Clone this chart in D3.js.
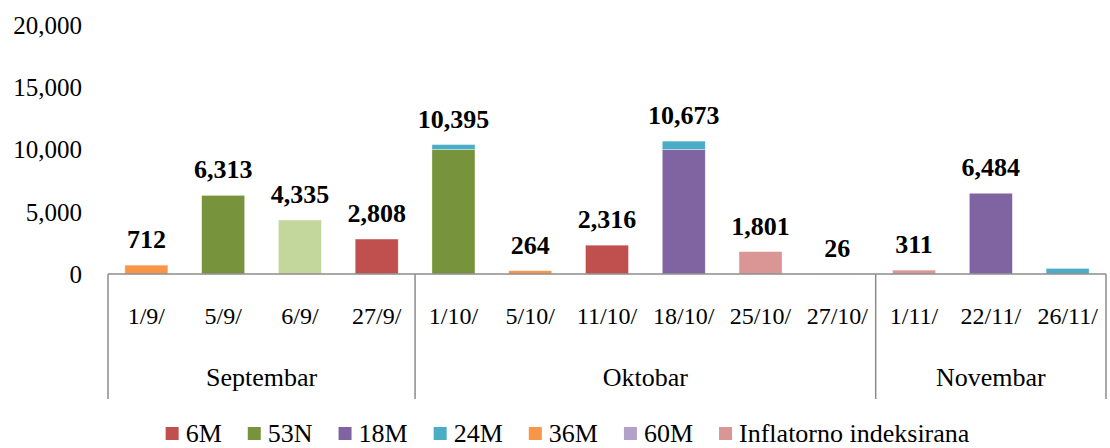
<!DOCTYPE html>
<html><head><meta charset="utf-8">
<script src="https://cdn.jsdelivr.net/npm/d3@7"></script>
<style>html,body{margin:0;padding:0;background:#fff;} svg{display:block;} svg text{font-family:"Liberation Serif","Times New Roman",Times,"DejaVu Serif",serif;}</style>
</head><body>
<svg id="c" width="1110" height="448"></svg>
<script>
const categories = ["1/9/","5/9/","6/9/","27/9/","1/10/","5/10/","11/10/","18/10/","25/10/","27/10/","1/11/","22/11/","26/11/"];
const months = ["Septembar","Oktobar","Novembar"];
const monthCounts = [4,6,3];
const s6M   = [0,0,0,2808,0,0,2316,0,0,0,0,0,0];
const s53N  = [0,6313,0,0,10000,0,0,0,0,0,0,0,0];
const s53Nb = [0,0,4335,0,0,0,0,0,0,0,0,0,0];
const s18M  = [0,0,0,0,0,0,0,10000,0,0,0,6484,0];
const s24M  = [0,0,0,0,395,0,0,673,0,0,0,0,450];
const s36M  = [712,0,0,0,0,264,0,0,0,0,0,0,0];
const s60M  = [0,0,0,0,0,0,0,0,0,26,0,0,0];
const sInfl = [0,0,0,0,0,0,0,0,1801,0,311,0,0];
const totalLabels = ["712","6,313","4,335","2,808","10,395","264","2,316","10,673","1,801","26","311","6,484",null];
const yTicks = [0,5000,10000,15000,20000];
const seriesNames = ["6M","53N","53N ","18M","24M","36M","60M","Inflatorno indeksirana"];
const seriesValues = [s6M,s53N,s53Nb,s18M,s24M,s36M,s60M,sInfl];
const seriesColors = ["#c0504d","#77933c","#c3d69b","#8064a2","#4bacc6","#f79646","#b3a2c7","#d99694"];
const legendNames = ["6M","53N","18M","24M","36M","60M","Inflatorno indeksirana"];
const legendColors = ["#c0504d","#77933c","#8064a2","#4bacc6","#f79646","#b3a2c7","#d99694"];

const svg = d3.select("#c");
const x0 = 108, x1 = 1106, yZero = 274, yTop = 25;

const x = d3.scaleBand().domain(categories).range([x0,x1]).paddingInner(0.44).paddingOuter(0.22);
const y = d3.scaleLinear().domain([0,20000]).range([yZero,yTop]);

const rows = categories.map((c,i)=>{const r={cat:c}; seriesNames.forEach((s,j)=>r[s]=seriesValues[j][i]); return r;});
const stack = d3.stack().keys(seriesNames)(rows);

svg.append("g").selectAll("g").data(stack).join("g")
  .attr("fill",(d,i)=>seriesColors[i])
  .selectAll("rect").data(d=>d).join("rect")
  .attr("x",d=>x(d.data.cat))
  .attr("width",x.bandwidth())
  .attr("y",d=>y(d[1]))
  .attr("height",d=>y(d[0])-y(d[1]))
  .attr("stroke","#ffffff").attr("stroke-opacity",0.5).attr("stroke-width",0.7);

// totals labels
const totals = categories.map((c,i)=>d3.sum(seriesValues,s=>s[i]));
svg.append("g").selectAll("text").data(categories).join("text")
  .attr("x",d=>x(d)+x.bandwidth()/2)
  .attr("y",(d,i)=>y(totals[i])-17)
  .attr("text-anchor","middle")
  .style("font-weight","bold").style("font-size","26px")
  .text((d,i)=>totalLabels[i]||"");

// y axis
const yAxis = d3.axisLeft(y).tickValues(yTicks).tickSize(0).tickPadding(0).tickFormat(d3.format(","));
const ga = svg.append("g").attr("transform","translate(82,0)").call(yAxis);
ga.attr("font-family",null).attr("font-size",null);
ga.select(".domain").remove();
ga.selectAll("text").style("font-size","25px").attr("fill","#000").attr("dy","0.33em");

// x axis
const axCol = "#8c8c8c";
svg.append("line").attr("x1",x0).attr("x2",x1).attr("y1",yZero).attr("y2",yZero).attr("stroke",axCol).attr("stroke-width",1.5);
let bounds=[0]; monthCounts.forEach(c=>bounds.push(bounds[bounds.length-1]+c));
const bx = i => x0 + (x1-x0)*bounds[i]/categories.length;
bounds.forEach((b,i)=>{
  svg.append("line").attr("x1",bx(i)).attr("x2",bx(i)).attr("y1",yZero).attr("y2",399).attr("stroke",axCol).attr("stroke-width",1.5);
});
svg.append("g").selectAll("text").data(categories).join("text")
  .attr("x",d=>x(d)+x.bandwidth()/2).attr("y",324)
  .attr("text-anchor","middle").style("font-size","24px").text(d=>d);
svg.append("g").selectAll("text").data(months).join("text")
  .attr("x",(d,i)=>(bx(i)+bx(i+1))/2).attr("y",386)
  .attr("text-anchor","middle").style("font-size","26px").text(d=>d);

// legend
const lg = svg.append("g");
let lx = 0;
legendNames.forEach((n,i)=>{
  const g = lg.append("g").attr("transform",`translate(${lx},0)`);
  g.append("rect").attr("x",0).attr("y",427).attr("width",13).attr("height",13).attr("fill",legendColors[i]);
  const t = g.append("text").attr("x",20).attr("y",442).style("font-size","26px").text(n);
  const w = t.node().getComputedTextLength();
  lx += 20 + w + 26;
});
const totalW = lx - 26;
lg.attr("transform",`translate(${(162+973)/2 - totalW/2},0)`);
</script>
</body></html>
